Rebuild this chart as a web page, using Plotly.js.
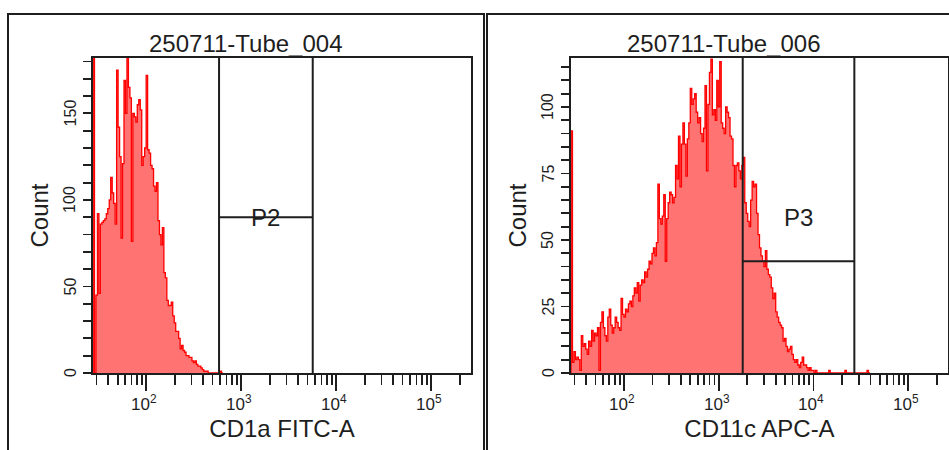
<!DOCTYPE html>
<html><head><meta charset="utf-8">
<script src="https://cdn.plot.ly/plotly-3.0.1.min.js"></script>
<style>html,body{margin:0;padding:0;background:#fff}</style>
</head><body><div id="chart" style="width:949px;height:450px"></div>
<script>
// ---- data ----
const LOG_MIN = 1.44, LOG_MAX = 5.42, N_BINS = 256;   // display range (log10) and histogram bins
const panelTitles = ['250711-Tube_004', '250711-Tube_006'];
const xTitles = ['CD1a FITC-A', 'CD11c APC-A'];
const yTitle = 'Count';
// counts per bin, starting at bin 0 (left edge of axis)
const tube004Counts = [260,0,45,92,46,86,87,88,89,92,95,100,113,104,98,86,175,142,125,78,
  121,169,150,185,165,159,76,150,148,145,155,158,152,120,125,130,172,129,127,120,
  118,108,105,110,88,80,74,84,58,55,42,39,39,41,33,29,24,24,20,14,
  16,13,12,10,10,9,9,7,6,7,5,4,4,3,2,1,1,1,0,0,0,0,0,0,0,0,1,0];
const tube006Counts = [91,4,8,5,6,5,1,14,10,11,9,7,12,10,16,12,15,14,17,1,
  19,23,17,14,12,21,24,18,15,17,21,19,17,16,28,22,21,24,23,26,
  27,25,29,32,30,34,27,33,35,34,38,36,39,42,41,45,47,44,49,71,
  58,56,59,67,42,58,64,68,67,64,66,78,73,89,70,86,94,86,74,88,
  94,107,101,103,105,98,94,96,90,87,92,108,76,101,113,118,97,99,95,110,
  100,117,94,92,90,100,98,96,89,88,78,70,78,79,76,73,78,81,64,60,
  57,55,65,72,70,71,60,52,47,44,42,40,46,39,37,36,32,28,30,23,
  21,19,18,17,12,13,10,8,9,10,7,5,4,5,3,2,4,6,3,3,
  2,1,2,1,1,0,1,0,0,0,0,0,0,0,0,1,0,0,0,0,
  0,0,0,0,0,0,1,0,0,0,0,0,0,0,0,0,0,0,0,0,0,1,0];
// gates: [low, high, level]
const gateP2 = [585, 5670, 90];
const gateP3 = [1790, 27000, 42];
const gateNames = ['P2', 'P3'];
// axis ticks
const xMajorVals = [100, 1000, 10000, 100000];
const xMajorText = ['10<sup>2</sup>', '10<sup>3</sup>', '10<sup>4</sup>', '10<sup>5</sup>'];
const xMinorVals = [30,40,50,60,70,80,90,200,300,400,500,600,700,800,900,
  2000,3000,4000,5000,6000,7000,8000,9000,20000,30000,40000,50000,60000,70000,80000,90000,200000];
const yLabelVals1 = [0, 50, 100, 150];
const yMinorVals1 = [10,20,30,40,60,70,80,90,110,120,130,140,160,170,180];
const yLabelVals2 = [0, 25, 50, 75, 100];
const yMinorVals2 = [5,10,15,20,30,35,40,45,55,60,65,70,80,85,90,95,105,110,115];
const yMax1 = 182, yMax2 = 118.4;

// ---- layout helpers ----
const W = 949, H = 450;
const FONT = 'Liberation Sans, Arial, sans-serif';
const INK = '#1e1e1e';
const px = v => v / W, py = v => 1 - v / H;
const lg = v => Math.log10(v);

function histTrace(counts, xa, ya) {
  const w = (LOG_MAX - LOG_MIN) / N_BINS;
  const x = [Math.pow(10, LOG_MIN)], y = [0];
  counts.forEach((c, i) => { x.push(Math.pow(10, LOG_MIN + i * w)); y.push(c); });
  x.push(Math.pow(10, LOG_MIN + counts.length * w)); y.push(0);
  return {type: 'scatter', mode: 'lines', x, y, xaxis: xa, yaxis: ya,
    line: {shape: 'hv', color: '#ff0000', width: 1.3},
    fill: 'tozeroy', fillcolor: '#ff7373', hoverinfo: 'skip', showlegend: false};
}
function gateTrace(g, ymax, xa, ya) {
  return {type: 'scatter', mode: 'lines', xaxis: xa, yaxis: ya,
    x: [g[0], g[0], null, g[1], g[1], null, g[0], g[1]],
    y: [0, ymax, null, 0, ymax, null, g[2], g[2]],
    line: {color: INK, width: 2}, hoverinfo: 'skip', showlegend: false};
}
function xAxis(dom, title, anchor) {
  return {domain: dom, anchor, type: 'log', range: [LOG_MIN, LOG_MAX],
    showline: true, mirror: true, linecolor: INK, linewidth: 2,
    ticks: 'outside', ticklen: 16, tickwidth: 1.8, tickcolor: INK,
    tickmode: 'array', tickvals: xMajorVals, showticklabels: false,
    minor: {tickmode: 'array', tickvals: xMinorVals, ticks: 'outside', ticklen: 10,
      tickwidth: 1.8, tickcolor: INK, showgrid: false},
    showgrid: false, zeroline: false, fixedrange: true,
    title: {text: title, font: {family: FONT, size: 24, color: INK}, standoff: 30}};
}
function yAxis(range, vals, minorVals, anchor) {
  return {domain: [py(373), py(58)], anchor, range,
    showline: true, mirror: true, linecolor: INK, linewidth: 2,
    ticks: 'outside', ticklen: 8, tickwidth: 1.8, tickcolor: INK,
    tickmode: 'array', tickvals: vals, showticklabels: false,
    minor: {tickmode: 'array', tickvals: minorVals, ticks: 'outside', ticklen: 8,
      tickwidth: 1.8, tickcolor: INK, showgrid: false},
    showgrid: false, zeroline: false, fixedrange: true,
    title: {text: yTitle, font: {family: FONT, size: 24, color: INK}, standoff: 28}};
}

const data = [
  histTrace(tube004Counts, 'x', 'y'),
  gateTrace(gateP2, yMax1, 'x', 'y'),
  histTrace(tube006Counts, 'x2', 'y2'),
  gateTrace(gateP3, yMax2, 'x2', 'y2')
];

// tick labels, placed through each axis' own scale
function xTickLabels(xref) {
  return xMajorVals.map((v, i) => ({xref, yref: 'paper', x: lg(v), y: py(403), text: xMajorText[i],
    showarrow: false, xanchor: 'center', yanchor: 'middle', xshift: -2,
    font: {family: FONT, size: 17, color: INK}}));
}
function yTickLabels(yref, xPix, vals) {
  return vals.map(v => ({xref: 'paper', yref, x: px(xPix), y: v, text: String(v), textangle: -90,
    showarrow: false, xanchor: 'center', yanchor: 'middle',
    font: {family: FONT, size: 16, color: INK}}));
}

const frameLine = {color: INK, width: 2};
const layout = {
  width: W, height: H, margin: {l: 0, r: 0, t: 0, b: 0},
  paper_bgcolor: '#fff', plot_bgcolor: '#fff', showlegend: false,
  font: {family: FONT, color: INK, size: 16},
  xaxis: xAxis([px(93), px(471)], xTitles[0], 'y'),
  yaxis: yAxis([0, yMax1], yLabelVals1, yMinorVals1, 'x'),
  xaxis2: xAxis([px(571), px(948)], xTitles[1], 'y2'),
  yaxis2: yAxis([0, yMax2], yLabelVals2, yMinorVals2, 'x2'),
  shapes: [
    {type: 'path', xref: 'paper', yref: 'paper', line: frameLine,
     path: `M ${px(8)} ${py(470)} L ${px(8)} ${py(14)} L ${px(484)} ${py(14)} L ${px(484)} ${py(470)}`},
    {type: 'path', xref: 'paper', yref: 'paper', line: frameLine,
     path: `M ${px(487)} ${py(470)} L ${px(487)} ${py(14)} L ${px(960)} ${py(14)}`}
  ],
  annotations: [
    {xref: 'paper', yref: 'paper', x: px(246), y: py(44), text: panelTitles[0], showarrow: false,
     xanchor: 'center', yanchor: 'middle', font: {family: FONT, size: 24, color: INK}},
    {xref: 'paper', yref: 'paper', x: px(724), y: py(44), text: panelTitles[1], showarrow: false,
     xanchor: 'center', yanchor: 'middle', font: {family: FONT, size: 24, color: INK}},
    {xref: 'x', yref: 'y domain', x: (lg(gateP2[0]) + lg(gateP2[1])) / 2, y: 0.495, text: gateNames[0],
     showarrow: false, xanchor: 'center', yanchor: 'middle', font: {family: FONT, size: 24, color: INK}},
    {xref: 'x2', yref: 'y2 domain', x: (lg(gateP3[0]) + lg(gateP3[1])) / 2, y: 0.495, text: gateNames[1],
     showarrow: false, xanchor: 'center', yanchor: 'middle', font: {family: FONT, size: 24, color: INK}}
  ].concat(xTickLabels('x'), xTickLabels('x2'),
           yTickLabels('y', 70, yLabelVals1), yTickLabels('y2', 548, yLabelVals2))
};
Plotly.newPlot('chart', data, layout, {staticPlot: true, displayModeBar: false});
</script></body></html>
